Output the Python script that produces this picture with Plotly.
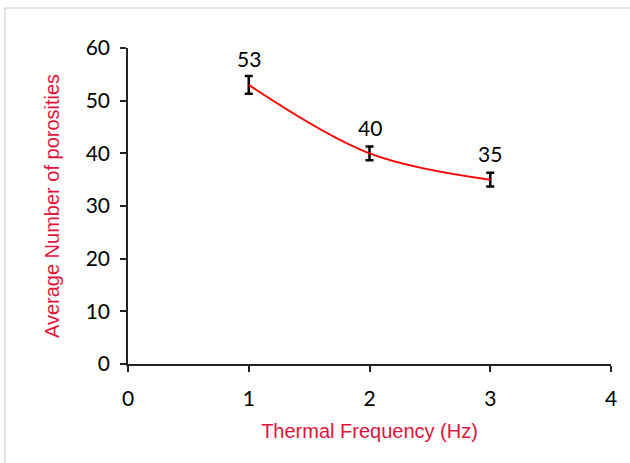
import plotly.graph_objects as go

freq = [1, 2, 3]
porosity = [53, 40, 35]
err = [1.7, 1.3, 1.3]
labels = ["53", "40", "35"]
x_ticks = [0, 1, 2, 3, 4]
y_ticks = [0, 10, 20, 30, 40, 50, 60]

L, R, T, B = 128, 19, 48, 99
W, H = 630, 463
pw, ph = W - L - R, H - T - B

fig = go.Figure()
fig.add_trace(go.Scatter(
    x=freq, y=porosity, mode="lines",
    line=dict(color="#FF0000", width=2, shape="spline", smoothing=1),
    error_y=dict(type="data", array=err, visible=True, color="black", thickness=2.5, width=4),
    hoverinfo="skip", showlegend=False,
))
for xv, yv, t in zip(freq, porosity, labels):
    fig.add_annotation(x=xv, y=yv, text=t, showarrow=False, yshift=26,
                       font=dict(family="Lato", size=21, color="black"))

# outer chart border
fig.add_shape(type="rect", xref="paper", yref="paper",
              x0=(5 - L) / pw, x1=(640 - L) / pw,
              y0=(H - B - 480) / ph, y1=1 + (T - 8) / ph,
              line=dict(color="#d9d9d9", width=1.5), fillcolor="rgba(0,0,0,0)", layer="below")

fig.update_layout(
    width=W, height=H,
    margin=dict(l=L, r=R, t=T, b=B),
    paper_bgcolor="white", plot_bgcolor="white",
    xaxis=dict(range=[0, 4], tickvals=x_ticks, showgrid=False, zeroline=False,
               showline=True, linecolor="#222", linewidth=1.5,
               ticks="outside", ticklen=6, tickwidth=1.5, tickcolor="#222",
               ticklabelstandoff=9,
               tickfont=dict(family="Lato", size=21, color="black"),
               title=dict(text="Thermal Frequency (Hz)", standoff=15,
                          font=dict(family="Liberation Sans", size=20, color="#E0143C"))),
    yaxis=dict(range=[0, 60], tickvals=y_ticks, showgrid=False, zeroline=False,
               showline=True, linecolor="#222", linewidth=1.5,
               ticks="outside", ticklen=6, tickwidth=1.5, tickcolor="#222",
               ticklabelstandoff=6,
               tickfont=dict(family="Lato", size=21, color="black"),
               title=dict(text="Average Number of porosities", standoff=21,
                          font=dict(family="Liberation Sans", size=20, color="#E0143C"))),
)
fig.write_html("out.html")
